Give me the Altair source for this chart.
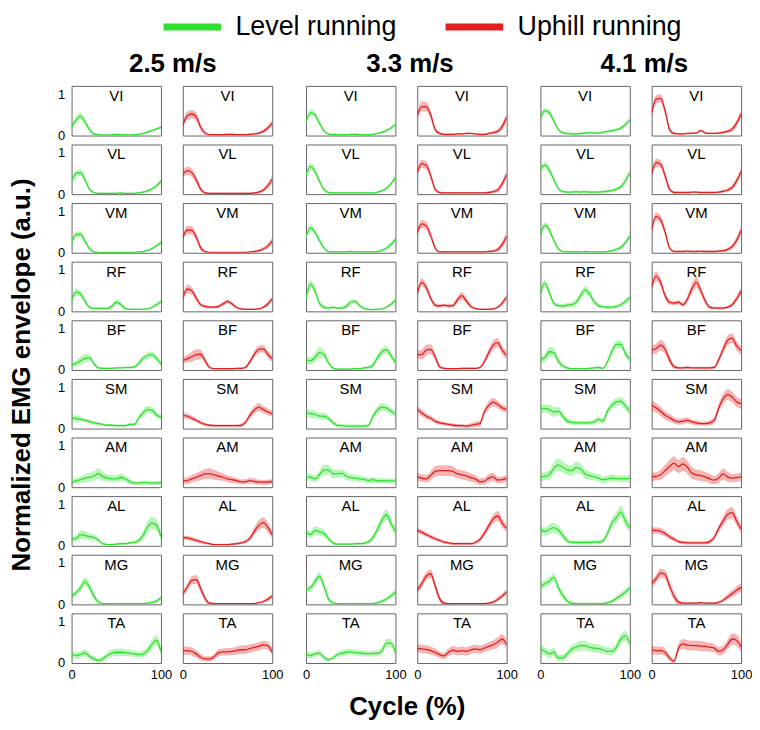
import altair as alt
import pandas as pd

FONT = "Liberation Sans"
MUSCLES = ["VI", "VL", "VM", "RF", "BF", "SM", "AM", "AL", "MG", "TA"]
SPEEDS = ["2.5 m/s", "3.3 m/s", "4.1 m/s"]
CONDS = ["Level running", "Uphill running"]
CYCLE = [0, 5, 10, 15, 20, 25, 30, 35, 40, 45, 50, 55, 60, 65, 70, 75, 80, 85, 90, 95, 100]

# ---- mean envelopes (L = level, U = uphill; 1 = 2.5, 2 = 3.3, 3 = 4.1 m/s) ----
VI_L1 = [0.20,0.38,0.47,0.33,0.15,0.04,0.02,0.01,0.01,0.02,0.03,0.02,0.02,0.01,0.02,0.03,0.05,0.08,0.12,0.16,0.20]
VI_U1 = [0.25,0.48,0.52,0.45,0.20,0.06,0.02,0.02,0.02,0.02,0.03,0.03,0.02,0.02,0.02,0.03,0.04,0.06,0.10,0.18,0.30]
VI_L2 = [0.32,0.55,0.50,0.30,0.12,0.04,0.02,0.02,0.02,0.02,0.03,0.03,0.02,0.02,0.02,0.03,0.05,0.08,0.12,0.18,0.27]
VI_U2 = [0.48,0.70,0.70,0.50,0.15,0.05,0.03,0.03,0.03,0.04,0.04,0.05,0.05,0.04,0.03,0.03,0.05,0.07,0.10,0.22,0.44]
VI_L3 = [0.42,0.60,0.55,0.35,0.15,0.07,0.05,0.04,0.04,0.05,0.06,0.07,0.06,0.06,0.08,0.10,0.12,0.14,0.18,0.26,0.38]
VI_U3 = [0.55,0.88,0.90,0.60,0.15,0.05,0.04,0.04,0.05,0.06,0.06,0.12,0.06,0.05,0.05,0.06,0.08,0.10,0.15,0.30,0.52]

VL_L1 = [0.30,0.50,0.52,0.35,0.12,0.04,0.02,0.02,0.02,0.02,0.02,0.03,0.02,0.02,0.02,0.03,0.05,0.08,0.13,0.20,0.32]
VL_U1 = [0.48,0.57,0.52,0.35,0.12,0.03,0.02,0.02,0.02,0.02,0.02,0.02,0.02,0.02,0.02,0.02,0.03,0.05,0.10,0.20,0.36]
VL_L2 = [0.45,0.67,0.55,0.32,0.12,0.04,0.03,0.03,0.03,0.03,0.03,0.03,0.03,0.03,0.03,0.03,0.05,0.08,0.14,0.25,0.40]
VL_U2 = [0.52,0.74,0.70,0.45,0.12,0.04,0.03,0.03,0.03,0.03,0.03,0.03,0.03,0.03,0.03,0.03,0.04,0.06,0.10,0.25,0.48]
VL_L3 = [0.60,0.70,0.58,0.35,0.14,0.06,0.05,0.05,0.06,0.05,0.06,0.05,0.05,0.05,0.06,0.07,0.09,0.12,0.18,0.32,0.52]
VL_U3 = [0.50,0.76,0.72,0.45,0.12,0.04,0.04,0.04,0.04,0.05,0.05,0.04,0.04,0.04,0.04,0.05,0.07,0.10,0.16,0.32,0.54]

VM_L1 = [0.25,0.44,0.45,0.28,0.10,0.02,0.01,0.01,0.01,0.01,0.01,0.01,0.01,0.01,0.01,0.02,0.03,0.06,0.10,0.17,0.25]
VM_U1 = [0.37,0.55,0.54,0.38,0.12,0.03,0.01,0.01,0.01,0.01,0.01,0.01,0.01,0.01,0.01,0.02,0.03,0.05,0.09,0.16,0.28]
VM_L2 = [0.37,0.60,0.50,0.30,0.12,0.03,0.02,0.02,0.02,0.02,0.03,0.02,0.02,0.02,0.02,0.02,0.03,0.06,0.11,0.20,0.32]
VM_U2 = [0.48,0.70,0.65,0.42,0.12,0.02,0.02,0.02,0.02,0.02,0.02,0.02,0.02,0.02,0.02,0.02,0.03,0.04,0.08,0.20,0.40]
VM_L3 = [0.43,0.66,0.55,0.30,0.10,0.03,0.02,0.02,0.02,0.02,0.03,0.02,0.02,0.02,0.02,0.03,0.05,0.08,0.13,0.24,0.40]
VM_U3 = [0.57,0.88,0.80,0.50,0.12,0.03,0.03,0.03,0.04,0.03,0.03,0.04,0.03,0.03,0.03,0.04,0.05,0.08,0.15,0.30,0.54]

RF_L1 = [0.25,0.47,0.42,0.25,0.10,0.07,0.07,0.07,0.07,0.12,0.22,0.17,0.07,0.05,0.05,0.05,0.05,0.06,0.10,0.16,0.24]
RF_U1 = [0.32,0.54,0.50,0.32,0.16,0.12,0.10,0.10,0.12,0.18,0.24,0.18,0.10,0.06,0.05,0.05,0.05,0.06,0.10,0.18,0.30]
RF_L2 = [0.30,0.66,0.50,0.20,0.10,0.08,0.10,0.08,0.08,0.12,0.22,0.24,0.14,0.07,0.05,0.04,0.05,0.06,0.10,0.17,0.27]
RF_U2 = [0.43,0.70,0.58,0.32,0.15,0.13,0.15,0.13,0.14,0.28,0.38,0.25,0.12,0.07,0.05,0.05,0.05,0.06,0.10,0.20,0.35]
RF_L3 = [0.43,0.68,0.45,0.20,0.14,0.13,0.15,0.16,0.22,0.38,0.52,0.42,0.24,0.14,0.11,0.10,0.10,0.12,0.16,0.24,0.33]
RF_U3 = [0.60,0.85,0.70,0.38,0.22,0.20,0.22,0.16,0.30,0.55,0.70,0.50,0.25,0.10,0.08,0.08,0.08,0.10,0.16,0.30,0.49]

BF_L1 = [0.12,0.16,0.22,0.28,0.30,0.15,0.05,0.04,0.04,0.04,0.05,0.05,0.06,0.06,0.07,0.16,0.28,0.35,0.37,0.28,0.15]
BF_U1 = [0.23,0.27,0.32,0.37,0.38,0.22,0.06,0.03,0.03,0.03,0.03,0.03,0.04,0.04,0.06,0.20,0.38,0.50,0.51,0.38,0.27]
BF_L2 = [0.25,0.22,0.30,0.42,0.38,0.18,0.05,0.02,0.02,0.02,0.02,0.03,0.03,0.05,0.06,0.12,0.30,0.44,0.49,0.35,0.18]
BF_U2 = [0.37,0.37,0.48,0.50,0.32,0.08,0.04,0.03,0.03,0.03,0.04,0.04,0.04,0.04,0.06,0.20,0.42,0.60,0.66,0.48,0.35]
BF_L3 = [0.25,0.30,0.44,0.42,0.22,0.10,0.05,0.03,0.03,0.03,0.03,0.04,0.05,0.06,0.04,0.20,0.45,0.62,0.62,0.40,0.26]
BF_U3 = [0.48,0.52,0.60,0.50,0.25,0.08,0.05,0.05,0.06,0.05,0.05,0.05,0.05,0.05,0.06,0.25,0.50,0.72,0.77,0.58,0.47]

SM_L1 = [0.27,0.24,0.22,0.20,0.17,0.14,0.12,0.10,0.08,0.08,0.07,0.07,0.07,0.10,0.10,0.25,0.38,0.46,0.44,0.33,0.28]
SM_U1 = [0.32,0.30,0.25,0.20,0.14,0.10,0.08,0.07,0.07,0.07,0.07,0.07,0.07,0.08,0.15,0.32,0.45,0.52,0.46,0.40,0.36]
SM_L2 = [0.38,0.36,0.34,0.30,0.30,0.25,0.15,0.08,0.07,0.06,0.06,0.06,0.06,0.06,0.08,0.30,0.45,0.52,0.50,0.42,0.36]
SM_U2 = [0.46,0.38,0.30,0.25,0.18,0.14,0.12,0.10,0.08,0.07,0.07,0.06,0.08,0.10,0.12,0.40,0.56,0.64,0.58,0.50,0.46]
SM_L3 = [0.48,0.48,0.46,0.40,0.42,0.30,0.18,0.15,0.14,0.14,0.14,0.14,0.16,0.22,0.18,0.42,0.56,0.64,0.66,0.55,0.42]
SM_U3 = [0.56,0.50,0.42,0.32,0.26,0.20,0.16,0.18,0.20,0.16,0.14,0.12,0.12,0.14,0.20,0.50,0.72,0.82,0.76,0.65,0.60]

AM_L1 = [0.12,0.15,0.18,0.22,0.24,0.27,0.33,0.26,0.22,0.20,0.20,0.24,0.20,0.14,0.10,0.10,0.11,0.11,0.10,0.10,0.11]
AM_U1 = [0.15,0.16,0.20,0.24,0.28,0.32,0.33,0.30,0.27,0.24,0.20,0.18,0.16,0.13,0.13,0.16,0.14,0.12,0.12,0.12,0.14]
AM_L2 = [0.25,0.24,0.20,0.30,0.42,0.42,0.33,0.32,0.34,0.27,0.23,0.22,0.20,0.19,0.16,0.18,0.15,0.16,0.15,0.15,0.15]
AM_U2 = [0.25,0.22,0.20,0.28,0.38,0.40,0.40,0.40,0.38,0.32,0.30,0.27,0.23,0.20,0.13,0.14,0.22,0.25,0.17,0.18,0.22]
AM_L3 = [0.25,0.26,0.30,0.46,0.54,0.48,0.42,0.40,0.48,0.44,0.32,0.28,0.25,0.22,0.18,0.20,0.22,0.21,0.20,0.20,0.22]
AM_U3 = [0.25,0.26,0.30,0.40,0.50,0.58,0.50,0.56,0.48,0.34,0.30,0.28,0.25,0.20,0.17,0.22,0.32,0.25,0.22,0.23,0.25]

AL_L1 = [0.16,0.18,0.27,0.25,0.22,0.20,0.14,0.05,0.03,0.03,0.04,0.05,0.05,0.07,0.08,0.12,0.25,0.45,0.55,0.50,0.22]
AL_U1 = [0.20,0.19,0.16,0.13,0.10,0.07,0.05,0.03,0.03,0.03,0.03,0.04,0.05,0.07,0.10,0.18,0.35,0.50,0.56,0.45,0.26]
AL_L2 = [0.33,0.27,0.37,0.34,0.30,0.18,0.07,0.04,0.04,0.04,0.04,0.05,0.05,0.06,0.10,0.20,0.40,0.62,0.75,0.55,0.34]
AL_U2 = [0.38,0.33,0.27,0.22,0.17,0.13,0.09,0.07,0.05,0.05,0.05,0.05,0.05,0.08,0.15,0.30,0.48,0.65,0.72,0.55,0.42]
AL_L3 = [0.41,0.34,0.40,0.44,0.38,0.25,0.12,0.08,0.08,0.08,0.08,0.08,0.09,0.09,0.12,0.30,0.55,0.68,0.82,0.60,0.43]
AL_U3 = [0.37,0.37,0.35,0.30,0.22,0.16,0.10,0.08,0.07,0.07,0.07,0.07,0.07,0.10,0.20,0.42,0.60,0.76,0.80,0.60,0.41]

MG_L1 = [0.20,0.28,0.40,0.55,0.42,0.20,0.06,0.02,0.02,0.02,0.02,0.02,0.02,0.02,0.02,0.02,0.02,0.03,0.05,0.08,0.16]
MG_U1 = [0.25,0.42,0.58,0.60,0.38,0.14,0.03,0.02,0.02,0.02,0.02,0.02,0.02,0.02,0.02,0.02,0.02,0.04,0.07,0.12,0.20]
MG_L2 = [0.36,0.40,0.55,0.68,0.45,0.14,0.04,0.02,0.02,0.02,0.02,0.02,0.02,0.02,0.02,0.02,0.04,0.08,0.13,0.20,0.30]
MG_U2 = [0.34,0.50,0.68,0.74,0.45,0.14,0.03,0.02,0.02,0.02,0.02,0.02,0.02,0.02,0.02,0.02,0.03,0.06,0.12,0.20,0.30]
MG_L3 = [0.43,0.50,0.56,0.66,0.40,0.22,0.08,0.03,0.02,0.02,0.02,0.02,0.02,0.02,0.02,0.04,0.08,0.14,0.22,0.30,0.39]
MG_U3 = [0.50,0.62,0.76,0.72,0.45,0.20,0.06,0.03,0.03,0.03,0.03,0.04,0.03,0.03,0.03,0.05,0.10,0.18,0.26,0.34,0.41]

TA_L1 = [0.22,0.18,0.20,0.25,0.16,0.10,0.06,0.10,0.18,0.24,0.26,0.26,0.25,0.24,0.22,0.20,0.22,0.30,0.45,0.55,0.28]
TA_U1 = [0.30,0.30,0.28,0.22,0.14,0.10,0.10,0.15,0.25,0.27,0.27,0.28,0.30,0.32,0.32,0.35,0.38,0.40,0.44,0.42,0.26]
TA_L2 = [0.22,0.18,0.22,0.24,0.14,0.08,0.12,0.20,0.24,0.26,0.27,0.25,0.24,0.23,0.22,0.23,0.23,0.30,0.48,0.48,0.25]
TA_U2 = [0.35,0.34,0.33,0.30,0.26,0.20,0.17,0.26,0.31,0.28,0.30,0.28,0.32,0.34,0.32,0.36,0.40,0.44,0.50,0.58,0.44]
TA_L3 = [0.35,0.28,0.22,0.27,0.12,0.12,0.22,0.33,0.38,0.42,0.42,0.38,0.36,0.35,0.32,0.28,0.28,0.38,0.58,0.66,0.47]
TA_U3 = [0.31,0.30,0.30,0.26,0.12,0.04,0.36,0.46,0.43,0.42,0.42,0.41,0.40,0.38,0.36,0.28,0.32,0.45,0.58,0.55,0.39]

# ---- standard deviations (band half-widths) ----
VI_L1_SD = [0.05,0.08,0.08,0.07,0.05,0.03,0.02,0.02,0.02,0.02,0.02,0.02,0.02,0.02,0.02,0.02,0.02,0.03,0.03,0.03,0.04]
VI_U1_SD = [0.07,0.10,0.10,0.10,0.08,0.04,0.02,0.02,0.02,0.02,0.02,0.02,0.02,0.02,0.02,0.02,0.02,0.03,0.04,0.06,0.08]
VI_L2_SD = [0.05,0.08,0.08,0.06,0.04,0.02,0.02,0.02,0.02,0.02,0.02,0.02,0.02,0.02,0.02,0.02,0.02,0.03,0.03,0.04,0.05]
VI_U2_SD = [0.08,0.12,0.12,0.10,0.06,0.03,0.02,0.02,0.02,0.02,0.02,0.02,0.02,0.02,0.02,0.02,0.03,0.04,0.05,0.08,0.10]
VI_L3_SD = [0.05,0.07,0.07,0.06,0.04,0.03,0.03,0.03,0.03,0.03,0.03,0.03,0.03,0.03,0.03,0.03,0.03,0.04,0.04,0.05,0.06]
VI_U3_SD = [0.08,0.10,0.10,0.10,0.06,0.03,0.02,0.02,0.02,0.02,0.02,0.03,0.02,0.02,0.02,0.02,0.03,0.04,0.06,0.08,0.10]

VL_L1_SD = [0.06,0.08,0.08,0.07,0.04,0.02,0.02,0.02,0.02,0.02,0.02,0.02,0.02,0.02,0.02,0.02,0.02,0.03,0.04,0.05,0.06]
VL_U1_SD = [0.08,0.10,0.10,0.09,0.06,0.03,0.02,0.02,0.02,0.02,0.02,0.02,0.02,0.02,0.02,0.02,0.02,0.03,0.05,0.07,0.10]
VL_L2_SD = [0.06,0.09,0.08,0.06,0.04,0.02,0.02,0.02,0.02,0.02,0.02,0.02,0.02,0.02,0.02,0.02,0.02,0.03,0.04,0.05,0.06]
VL_U2_SD = [0.08,0.10,0.10,0.09,0.05,0.02,0.02,0.02,0.02,0.02,0.02,0.02,0.02,0.02,0.02,0.02,0.03,0.04,0.06,0.08,0.10]
VL_L3_SD = [0.06,0.08,0.08,0.06,0.04,0.03,0.03,0.03,0.03,0.03,0.03,0.03,0.03,0.03,0.03,0.03,0.03,0.04,0.05,0.06,0.06]
VL_U3_SD = [0.08,0.10,0.10,0.09,0.05,0.03,0.02,0.02,0.02,0.02,0.02,0.02,0.02,0.02,0.02,0.02,0.03,0.04,0.06,0.08,0.10]

VM_L1_SD = [0.05,0.07,0.07,0.06,0.04,0.02,0.01,0.01,0.01,0.01,0.01,0.01,0.01,0.01,0.01,0.01,0.02,0.02,0.03,0.04,0.05]
VM_U1_SD = [0.07,0.10,0.10,0.09,0.06,0.03,0.01,0.01,0.01,0.01,0.01,0.01,0.01,0.01,0.01,0.01,0.02,0.03,0.04,0.06,0.08]
VM_L2_SD = [0.05,0.08,0.08,0.06,0.04,0.02,0.02,0.02,0.02,0.02,0.02,0.02,0.02,0.02,0.02,0.02,0.02,0.03,0.04,0.05,0.06]
VM_U2_SD = [0.07,0.10,0.10,0.09,0.05,0.02,0.02,0.02,0.02,0.02,0.02,0.02,0.02,0.02,0.02,0.02,0.02,0.03,0.05,0.08,0.10]
VM_L3_SD = [0.06,0.08,0.08,0.06,0.04,0.02,0.02,0.02,0.02,0.02,0.02,0.02,0.02,0.02,0.02,0.02,0.03,0.04,0.05,0.06,0.07]
VM_U3_SD = [0.08,0.10,0.10,0.09,0.05,0.02,0.02,0.02,0.02,0.02,0.02,0.02,0.02,0.02,0.02,0.02,0.03,0.04,0.06,0.08,0.10]

RF_L1_SD = [0.06,0.08,0.08,0.06,0.04,0.03,0.03,0.03,0.03,0.05,0.06,0.05,0.03,0.02,0.02,0.02,0.02,0.02,0.03,0.04,0.05]
RF_U1_SD = [0.07,0.10,0.09,0.07,0.05,0.04,0.03,0.03,0.04,0.05,0.05,0.04,0.03,0.02,0.02,0.02,0.02,0.02,0.03,0.05,0.06]
RF_L2_SD = [0.07,0.10,0.08,0.06,0.04,0.03,0.03,0.03,0.03,0.05,0.06,0.05,0.04,0.02,0.02,0.02,0.02,0.02,0.03,0.04,0.05]
RF_U2_SD = [0.08,0.10,0.09,0.07,0.05,0.04,0.04,0.04,0.05,0.08,0.09,0.07,0.04,0.02,0.02,0.02,0.02,0.02,0.03,0.05,0.07]
RF_L3_SD = [0.07,0.09,0.08,0.06,0.05,0.05,0.05,0.06,0.07,0.09,0.10,0.09,0.07,0.05,0.04,0.04,0.04,0.04,0.05,0.06,0.07]
RF_U3_SD = [0.09,0.12,0.10,0.08,0.06,0.05,0.05,0.05,0.08,0.12,0.13,0.11,0.07,0.04,0.03,0.03,0.03,0.03,0.05,0.07,0.09]

BF_L1_SD = [0.05,0.07,0.10,0.10,0.08,0.05,0.03,0.02,0.02,0.02,0.02,0.02,0.02,0.02,0.03,0.05,0.07,0.08,0.08,0.07,0.06]
BF_U1_SD = [0.07,0.09,0.12,0.13,0.11,0.07,0.03,0.02,0.02,0.02,0.02,0.02,0.02,0.02,0.03,0.05,0.08,0.09,0.09,0.09,0.08]
BF_L2_SD = [0.08,0.09,0.11,0.13,0.10,0.06,0.03,0.02,0.02,0.02,0.02,0.02,0.02,0.03,0.04,0.06,0.08,0.09,0.09,0.08,0.07]
BF_U2_SD = [0.10,0.12,0.13,0.12,0.09,0.05,0.03,0.02,0.02,0.02,0.02,0.02,0.02,0.02,0.03,0.06,0.09,0.11,0.11,0.10,0.09]
BF_L3_SD = [0.08,0.10,0.12,0.11,0.08,0.05,0.03,0.02,0.02,0.02,0.02,0.02,0.03,0.03,0.03,0.06,0.09,0.10,0.10,0.09,0.08]
BF_U3_SD = [0.10,0.12,0.13,0.12,0.09,0.05,0.03,0.03,0.03,0.03,0.03,0.03,0.03,0.03,0.04,0.07,0.10,0.12,0.12,0.11,0.10]

SM_L1_SD = [0.06,0.08,0.07,0.05,0.05,0.04,0.04,0.03,0.03,0.03,0.03,0.03,0.03,0.04,0.04,0.06,0.08,0.09,0.08,0.07,0.06]
SM_U1_SD = [0.07,0.07,0.06,0.05,0.04,0.04,0.03,0.03,0.03,0.03,0.03,0.03,0.03,0.04,0.05,0.07,0.09,0.10,0.09,0.08,0.07]
SM_L2_SD = [0.08,0.10,0.09,0.08,0.08,0.07,0.05,0.04,0.04,0.04,0.04,0.04,0.04,0.04,0.05,0.07,0.09,0.10,0.09,0.08,0.08]
SM_U2_SD = [0.09,0.08,0.07,0.06,0.05,0.05,0.04,0.04,0.04,0.04,0.04,0.04,0.05,0.07,0.07,0.08,0.10,0.10,0.09,0.08,0.08]
SM_L3_SD = [0.10,0.10,0.12,0.12,0.10,0.09,0.07,0.06,0.05,0.05,0.05,0.05,0.06,0.07,0.07,0.08,0.10,0.10,0.10,0.10,0.10]
SM_U3_SD = [0.12,0.12,0.11,0.10,0.09,0.08,0.07,0.07,0.07,0.06,0.06,0.05,0.05,0.06,0.08,0.10,0.12,0.13,0.13,0.12,0.12]

AM_L1_SD = [0.06,0.07,0.08,0.10,0.11,0.12,0.13,0.11,0.09,0.08,0.08,0.09,0.08,0.06,0.05,0.05,0.05,0.05,0.05,0.05,0.05]
AM_U1_SD = [0.07,0.08,0.09,0.10,0.11,0.12,0.13,0.12,0.10,0.09,0.08,0.08,0.07,0.06,0.06,0.07,0.07,0.06,0.06,0.06,0.06]
AM_L2_SD = [0.08,0.08,0.08,0.10,0.12,0.12,0.11,0.10,0.10,0.09,0.08,0.08,0.08,0.07,0.07,0.07,0.06,0.06,0.06,0.06,0.06]
AM_U2_SD = [0.09,0.09,0.09,0.11,0.13,0.13,0.13,0.13,0.12,0.11,0.11,0.11,0.10,0.09,0.08,0.08,0.10,0.10,0.08,0.08,0.08]
AM_L3_SD = [0.10,0.10,0.12,0.14,0.15,0.14,0.13,0.13,0.14,0.13,0.11,0.10,0.09,0.09,0.08,0.09,0.09,0.08,0.08,0.08,0.08]
AM_U3_SD = [0.10,0.10,0.12,0.14,0.16,0.17,0.16,0.17,0.16,0.14,0.13,0.13,0.12,0.11,0.10,0.12,0.14,0.12,0.10,0.10,0.10]

AL_L1_SD = [0.06,0.07,0.10,0.10,0.08,0.07,0.05,0.03,0.02,0.02,0.02,0.03,0.03,0.03,0.04,0.06,0.10,0.14,0.15,0.14,0.08]
AL_U1_SD = [0.05,0.05,0.05,0.05,0.04,0.03,0.03,0.02,0.02,0.02,0.02,0.02,0.03,0.03,0.04,0.06,0.09,0.12,0.13,0.12,0.08]
AL_L2_SD = [0.08,0.08,0.10,0.10,0.09,0.06,0.04,0.03,0.03,0.03,0.03,0.03,0.03,0.03,0.04,0.07,0.10,0.12,0.13,0.12,0.09]
AL_U2_SD = [0.07,0.06,0.06,0.05,0.05,0.04,0.04,0.03,0.03,0.03,0.03,0.03,0.03,0.04,0.05,0.07,0.09,0.11,0.12,0.11,0.09]
AL_L3_SD = [0.10,0.10,0.12,0.12,0.11,0.09,0.06,0.05,0.05,0.05,0.05,0.05,0.05,0.05,0.06,0.08,0.11,0.13,0.14,0.13,0.10]
AL_U3_SD = [0.08,0.08,0.08,0.07,0.06,0.05,0.04,0.04,0.04,0.04,0.04,0.04,0.04,0.05,0.06,0.08,0.11,0.13,0.14,0.12,0.10]

MG_L1_SD = [0.06,0.07,0.09,0.10,0.10,0.08,0.04,0.02,0.01,0.01,0.01,0.01,0.01,0.01,0.01,0.01,0.01,0.02,0.03,0.04,0.05]
MG_U1_SD = [0.07,0.09,0.10,0.11,0.10,0.07,0.03,0.02,0.01,0.01,0.01,0.01,0.01,0.01,0.01,0.01,0.02,0.02,0.03,0.05,0.06]
MG_L2_SD = [0.07,0.08,0.10,0.10,0.10,0.07,0.03,0.02,0.01,0.01,0.01,0.01,0.01,0.01,0.01,0.02,0.03,0.04,0.05,0.06,0.07]
MG_U2_SD = [0.07,0.09,0.10,0.10,0.10,0.07,0.03,0.02,0.01,0.01,0.01,0.01,0.01,0.01,0.01,0.02,0.02,0.03,0.05,0.06,0.07]
MG_L3_SD = [0.08,0.09,0.10,0.10,0.10,0.09,0.05,0.03,0.02,0.02,0.02,0.02,0.02,0.02,0.02,0.03,0.04,0.06,0.07,0.08,0.08]
MG_U3_SD = [0.09,0.10,0.11,0.11,0.11,0.10,0.06,0.03,0.02,0.02,0.02,0.02,0.02,0.02,0.02,0.03,0.05,0.07,0.09,0.10,0.10]

TA_L1_SD = [0.08,0.08,0.08,0.08,0.07,0.06,0.05,0.06,0.08,0.09,0.09,0.09,0.08,0.08,0.07,0.07,0.08,0.10,0.12,0.12,0.10]
TA_U1_SD = [0.10,0.10,0.10,0.09,0.08,0.06,0.06,0.07,0.08,0.08,0.09,0.09,0.10,0.10,0.10,0.10,0.10,0.10,0.10,0.10,0.09]
TA_L2_SD = [0.08,0.07,0.07,0.07,0.06,0.05,0.05,0.06,0.07,0.07,0.07,0.07,0.07,0.07,0.07,0.07,0.07,0.08,0.10,0.10,0.08]
TA_U2_SD = [0.10,0.10,0.10,0.10,0.09,0.08,0.08,0.09,0.10,0.10,0.10,0.10,0.10,0.10,0.10,0.10,0.10,0.11,0.12,0.12,0.11]
TA_L3_SD = [0.10,0.10,0.10,0.10,0.08,0.08,0.09,0.10,0.11,0.12,0.12,0.11,0.10,0.10,0.09,0.09,0.09,0.10,0.12,0.12,0.11]
TA_U3_SD = [0.10,0.10,0.10,0.09,0.07,0.05,0.10,0.12,0.12,0.12,0.12,0.12,0.11,0.11,0.10,0.10,0.10,0.12,0.14,0.14,0.12]

# ---- build long table ----
rows = []
g = globals()
for m in MUSCLES:
    for si, sp in enumerate(SPEEDS):
        for cond, code in zip(CONDS, ["L", "U"]):
            name = f"{m}_{code}{si + 1}"
            mean = g[name]
            sd = g[name + "_SD"]
            for x, mu, s in zip(CYCLE, mean, sd):
                rows.append({"muscle": m, "speed": sp, "cond": cond, "x": x,
                             "mean": mu, "lo": mu - s, "hi": mu + s})
df = pd.DataFrame(rows)

GREEN = "#2fe02f"
RED = "#e41e1e"
color_scale = alt.Scale(domain=CONDS, range=[GREEN, RED])
xscale = alt.Scale(domain=[0, 100], nice=False)
yscale = alt.Scale(domain=[0, 1.2], nice=False, zero=False)

legend = alt.Legend(orient="none", legendX=89, legendY=-92, direction="horizontal",
                    title=None, symbolType="stroke", symbolSize=3364, symbolStrokeWidth=7,
                    labelFontSize=27, labelFont=FONT, labelColor="black", labelLimit=400,
                    labelOffset=11, columnPadding=34, padding=0, symbolOpacity=1)


def speed_facet(si):
    sub = df[df.speed == SPEEDS[si]]
    xaxis = alt.Axis(values=[0, 100], labelFlush=False, ticks=False, domain=False, grid=False,
                     labelFontSize=13, labelPadding=5, labelFont=FONT, labelColor="black",
                     title=None)
    if si == 0:
        yaxis = alt.Axis(values=[0, 1], format="d", ticks=False, domain=False, grid=False,
                         labelFontSize=13, labelPadding=6, labelFont=FONT, labelColor="black",
                         title=None)
        row_header = alt.Header(labels=False, title="Normalized EMG envelope (a.u.)",
                                titleFontSize=26, titleFont=FONT, titleFontWeight="bold",
                                titleColor="black", titleOrient="left", titlePadding=12)
        title_dx = 27
    else:
        yaxis = None
        row_header = alt.Header(labels=False, title=None)
        title_dx = 0
    band = alt.Chart().mark_area(opacity=0.33, interpolate="monotone", clip=True).encode(
        x=alt.X("x:Q", scale=xscale, axis=xaxis),
        y=alt.Y("lo:Q", scale=yscale, axis=yaxis),
        y2="hi:Q",
        color=alt.Color("cond:N", scale=color_scale, legend=legend),
    )
    line = alt.Chart().mark_line(strokeWidth=1.3, interpolate="monotone", clip=True).encode(
        x=alt.X("x:Q", scale=xscale, axis=xaxis),
        y=alt.Y("mean:Q", scale=yscale, axis=yaxis),
        color=alt.Color("cond:N", scale=color_scale, legend=legend),
    )
    label = alt.Chart().mark_text(fontSize=15, font=FONT, color="black", baseline="middle").encode(
        x=alt.value(45), y=alt.value(10), text="muscle:N"
    ).transform_filter("datum.x == 50")
    layered = alt.layer(band, line, label).properties(width=90, height=50)
    return layered.facet(
        data=sub,
        row=alt.Row("muscle:N", sort=MUSCLES, header=row_header),
        column=alt.Column("cond:N", sort=CONDS, header=alt.Header(labels=False, title=None)),
        spacing={"row": 7, "column": 20},
    ).properties(title=alt.TitleParams(SPEEDS[si], fontSize=26, fontWeight="bold", font=FONT,
                                       color="black", anchor="middle", dx=title_dx, offset=8))


chart = alt.hconcat(speed_facet(0), speed_facet(1), speed_facet(2), spacing=19).resolve_scale(
    color="shared"
).properties(
    title=alt.TitleParams("Cycle (%)", orient="bottom", anchor="middle", dx=27, offset=12,
                          fontSize=26, fontWeight="bold", font=FONT, color="black"),
    padding={"left": 0, "top": -16, "right": 0, "bottom": 0}, background="white",
).configure_view(stroke="#666666", strokeWidth=1)

chart.save("out.html", embed_options={"renderer": "svg", "actions": False})
